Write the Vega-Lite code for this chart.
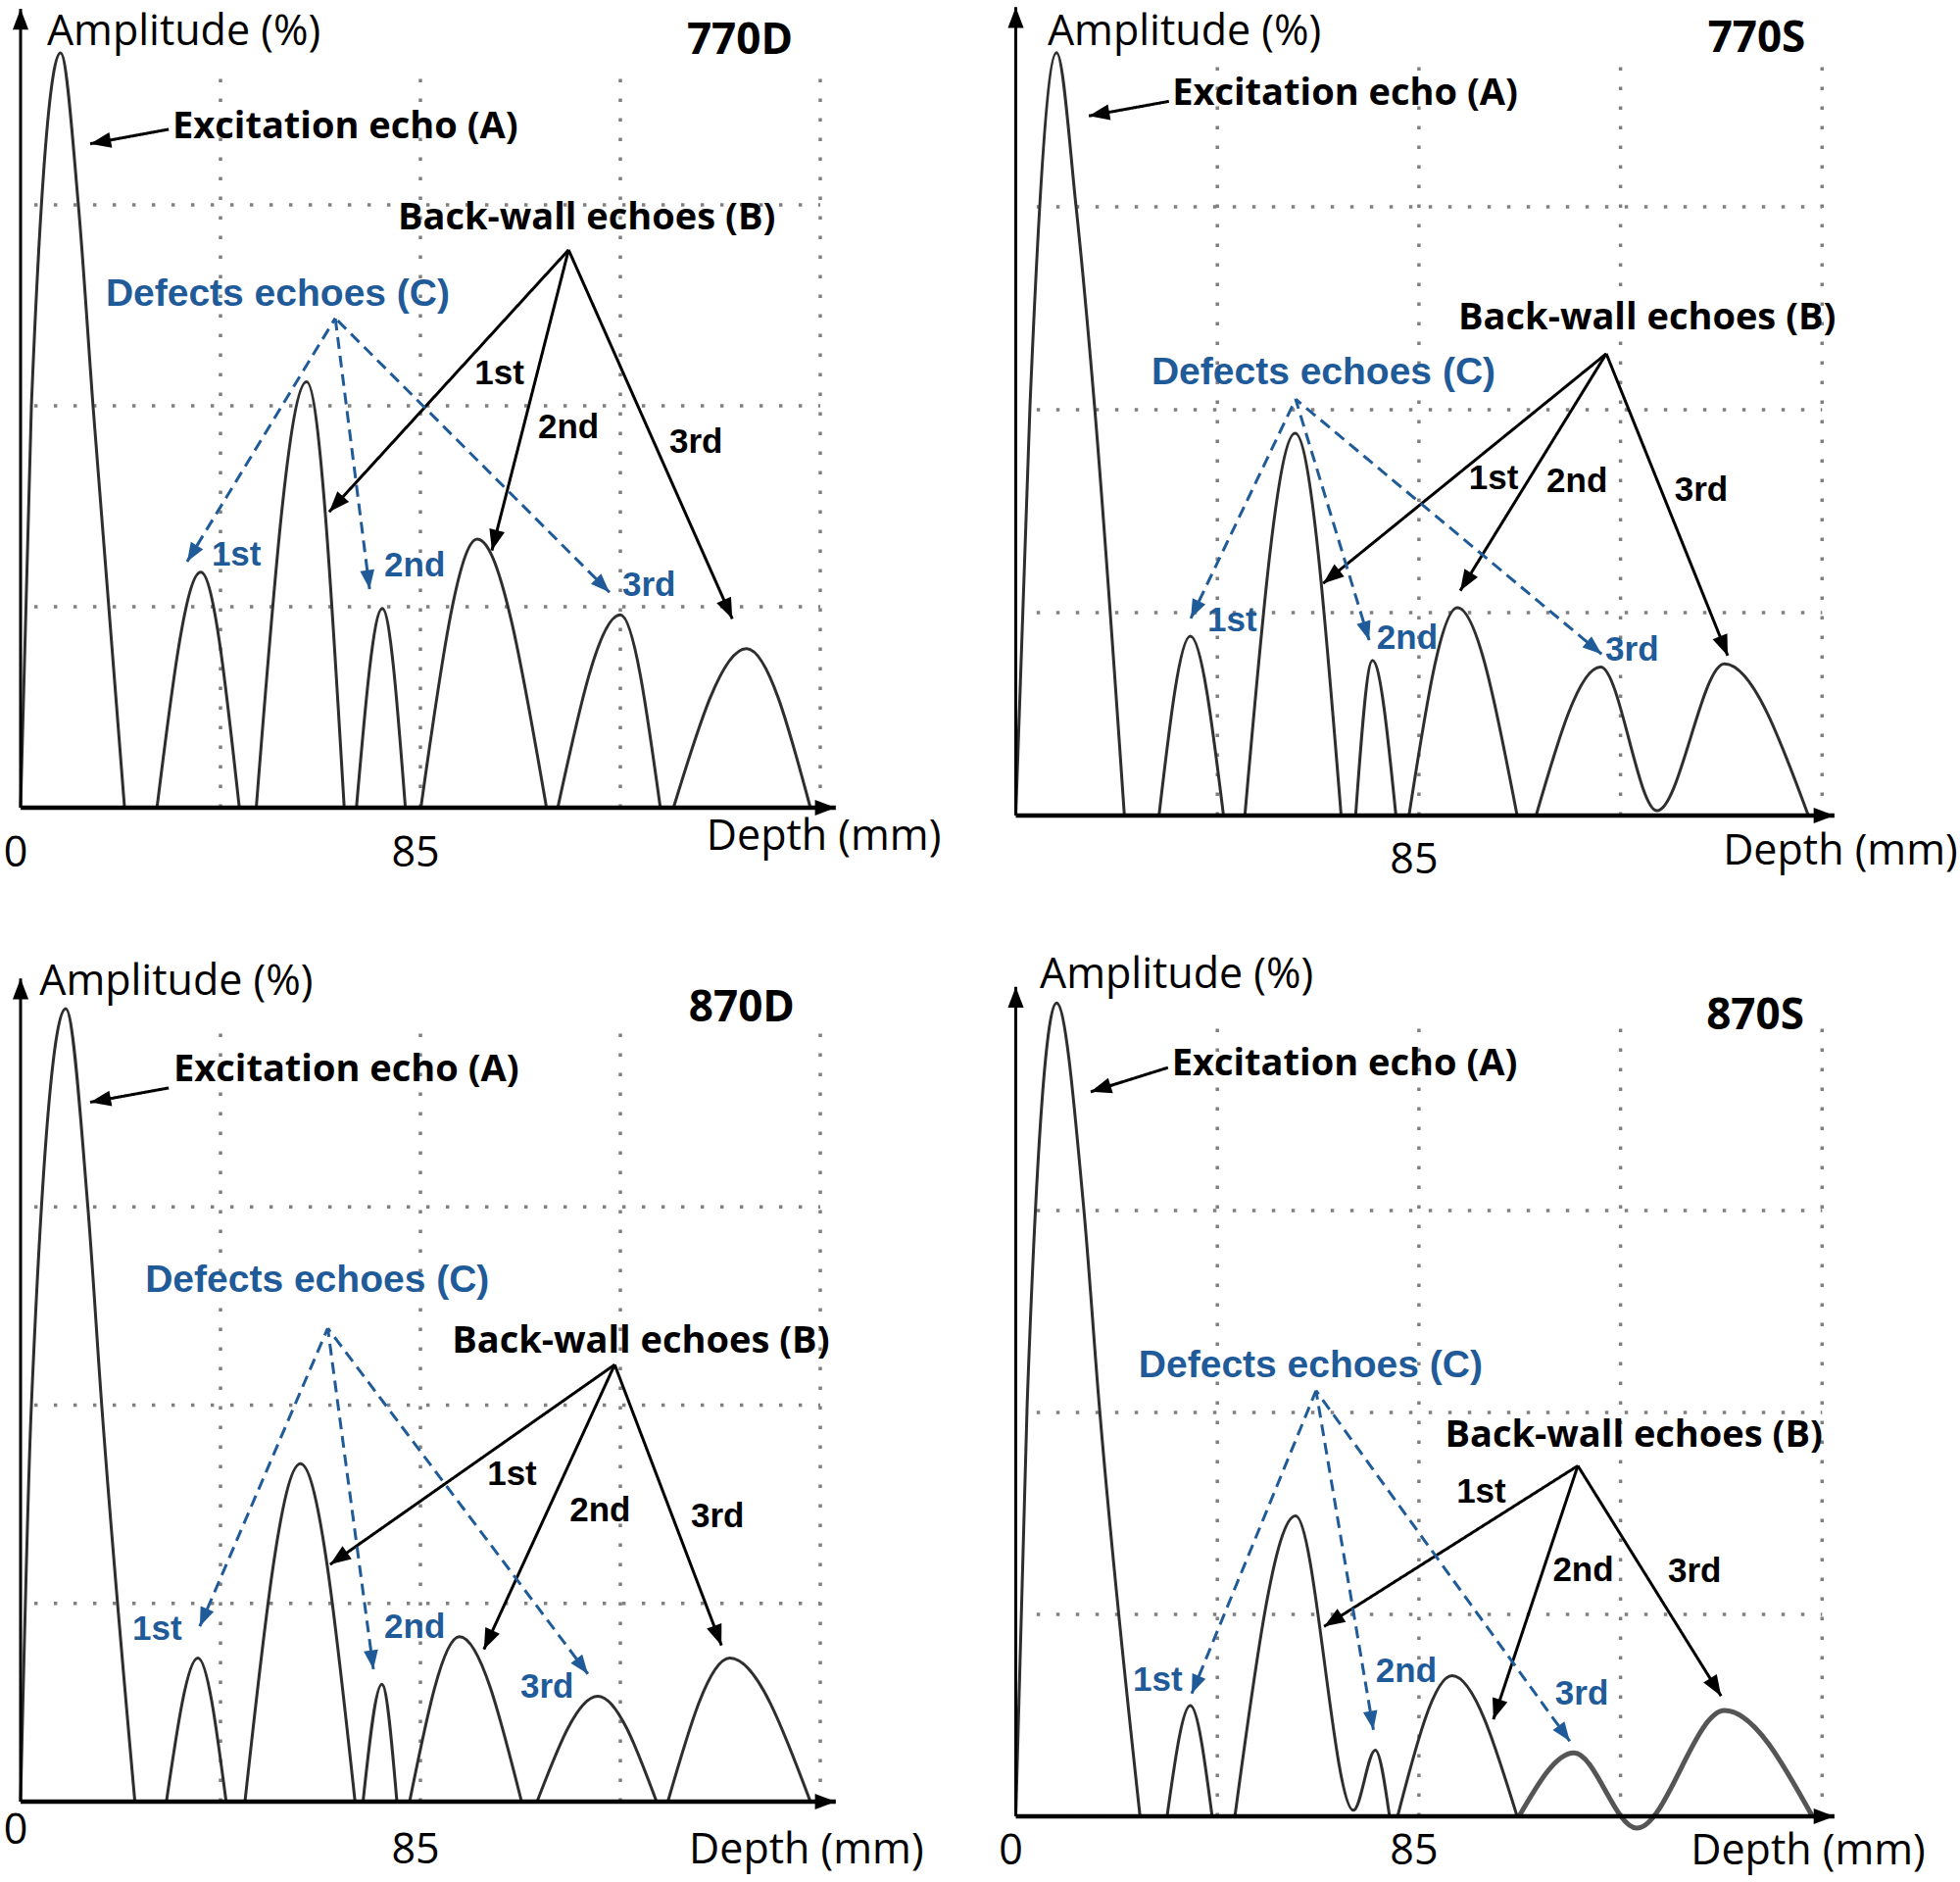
{
  "$schema": "https://vega.github.io/schema/vega-lite/v6.json",
  "background": "white",
  "padding": {"left": 3, "top": 4, "right": 0, "bottom": 10},
  "config": {"view": {"stroke": null}},
  "data": {
    "values": [
      {"panel": "770D", "kind": "wave", "seg": "a1", "x": 0, "y": 0},
      {"panel": "770D", "kind": "wave", "seg": "a1", "x": 2.3, "y": 50},
      {"panel": "770D", "kind": "wave", "seg": "a1", "x": 8.5, "y": 93.9},
      {"panel": "770D", "kind": "wave", "seg": "a1", "x": 12.3, "y": 74.9},
      {"panel": "770D", "kind": "wave", "seg": "a1", "x": 15.4, "y": 50},
      {"panel": "770D", "kind": "wave", "seg": "a1", "x": 22.1, "y": 0},
      {"panel": "770D", "kind": "wave", "seg": "a2", "x": 29, "y": 0},
      {"panel": "770D", "kind": "wave", "seg": "a2", "x": 38.3, "y": 29.3},
      {"panel": "770D", "kind": "wave", "seg": "a2", "x": 46.5, "y": 0},
      {"panel": "770D", "kind": "wave", "seg": "a3", "x": 50.1, "y": 0},
      {"panel": "770D", "kind": "wave", "seg": "a3", "x": 60.8, "y": 53},
      {"panel": "770D", "kind": "wave", "seg": "a3", "x": 68.8, "y": 0},
      {"panel": "770D", "kind": "wave", "seg": "a4", "x": 71.4, "y": 0},
      {"panel": "770D", "kind": "wave", "seg": "a4", "x": 76.9, "y": 24.8},
      {"panel": "770D", "kind": "wave", "seg": "a4", "x": 81.8, "y": 0},
      {"panel": "770D", "kind": "wave", "seg": "a5", "x": 85.1, "y": 0},
      {"panel": "770D", "kind": "wave", "seg": "a5", "x": 97.1, "y": 33.4},
      {"panel": "770D", "kind": "wave", "seg": "a5", "x": 111.8, "y": 0},
      {"panel": "770D", "kind": "wave", "seg": "a6", "x": 114.2, "y": 0},
      {"panel": "770D", "kind": "wave", "seg": "a6", "x": 127.5, "y": 24},
      {"panel": "770D", "kind": "wave", "seg": "a6", "x": 136, "y": 0},
      {"panel": "770D", "kind": "wave", "seg": "a7", "x": 138.8, "y": 0},
      {"panel": "770D", "kind": "wave", "seg": "a7", "x": 154.3, "y": 19.8},
      {"panel": "770D", "kind": "wave", "seg": "a7", "x": 167.9, "y": 0},
      {"panel": "770D", "kind": "hgrid", "x": 2.9, "x2": 170, "y": 25},
      {"panel": "770D", "kind": "hgrid", "x": 2.9, "x2": 170, "y": 50},
      {"panel": "770D", "kind": "hgrid", "x": 2.9, "x2": 170, "y": 75},
      {"panel": "770D", "kind": "vgrid", "x": 42.5, "y": 0, "y2": 92.6},
      {"panel": "770D", "kind": "vgrid", "x": 85, "y": 0, "y2": 92.6},
      {"panel": "770D", "kind": "vgrid", "x": 127.5, "y": 0, "y2": 92.6},
      {"panel": "770D", "kind": "vgrid", "x": 170, "y": 0, "y2": 92.6},
      {"panel": "770D", "kind": "arrow", "role": "yaxis", "x": 0, "y": 99.4, "x0": 0, "y0": 0},
      {"panel": "770D", "kind": "arrow", "role": "xaxis", "x": 173.3, "y": 0, "x0": 0, "y0": 0},
      {"panel": "770D", "kind": "arrow", "role": "echo", "x": 14.8, "y": 82.6, "x0": 31.5, "y0": 84.4},
      {"panel": "770D", "kind": "arrow", "role": "echo", "x": 65.6, "y": 36.8, "x0": 116.5, "y0": 69.4},
      {"panel": "770D", "kind": "arrow", "role": "echo", "x": 100.2, "y": 32, "x0": 116.5, "y0": 69.4},
      {"panel": "770D", "kind": "arrow", "role": "echo", "x": 151.3, "y": 23.5, "x0": 116.5, "y0": 69.4},
      {"panel": "770D", "kind": "arrow", "role": "defect", "x": 35.4, "y": 30.6, "x0": 66.9, "y0": 60.9},
      {"panel": "770D", "kind": "arrow", "role": "defect", "x": 74.2, "y": 27.2, "x0": 66.9, "y0": 60.9},
      {"panel": "770D", "kind": "arrow", "role": "defect", "x": 125.2, "y": 26.8, "x0": 66.9, "y0": 60.9},
      {"panel": "770D", "kind": "label", "role": "title", "x": 5.6, "y": 94.9, "text": "Amplitude (%)"},
      {"panel": "770D", "kind": "label", "role": "title", "x": 145.8, "y": -5.2, "text": "Depth (mm)"},
      {"panel": "770D", "kind": "label", "role": "tick", "x": 0, "y": -7.3, "text": "0"},
      {"panel": "770D", "kind": "label", "role": "tick", "x": 85, "y": -7.3, "text": "85"},
      {"panel": "770D", "kind": "label", "role": "name", "x": 152.9, "y": 93.8, "text": "770D"},
      {"panel": "770D", "kind": "label", "role": "echo", "x": 32.3, "y": 83.3, "text": "Excitation echo (A)"},
      {"panel": "770D", "kind": "label", "role": "echo", "x": 80.2, "y": 72, "text": "Back-wall echoes (B)"},
      {"panel": "770D", "kind": "label", "role": "defect", "x": 18.1, "y": 62.4, "text": "Defects echoes (C)"},
      {"panel": "770D", "kind": "label", "role": "bw_ord", "x": 96.5, "y": 52.7, "text": "1st"},
      {"panel": "770D", "kind": "label", "role": "bw_ord", "x": 110, "y": 46, "text": "2nd"},
      {"panel": "770D", "kind": "label", "role": "bw_ord", "x": 137.9, "y": 44.1, "text": "3rd"},
      {"panel": "770D", "kind": "label", "role": "def_ord", "x": 40.6, "y": 30.1, "text": "1st"},
      {"panel": "770D", "kind": "label", "role": "def_ord", "x": 77.3, "y": 28.8, "text": "2nd"},
      {"panel": "770D", "kind": "label", "role": "def_ord", "x": 127.9, "y": 26.3, "text": "3rd"},

      {"panel": "770S", "kind": "wave", "seg": "b1", "x": 0, "y": 0},
      {"panel": "770S", "kind": "wave", "seg": "b1", "x": 3, "y": 50.5},
      {"panel": "770S", "kind": "wave", "seg": "b1", "x": 8.6, "y": 94},
      {"panel": "770S", "kind": "wave", "seg": "b1", "x": 12.7, "y": 75.1},
      {"panel": "770S", "kind": "wave", "seg": "b1", "x": 16.6, "y": 50.5},
      {"panel": "770S", "kind": "wave", "seg": "b1", "x": 22.9, "y": 0},
      {"panel": "770S", "kind": "wave", "seg": "b2", "x": 30.2, "y": 0},
      {"panel": "770S", "kind": "wave", "seg": "b2", "x": 36.8, "y": 22.1},
      {"panel": "770S", "kind": "wave", "seg": "b2", "x": 43.8, "y": 0},
      {"panel": "770S", "kind": "wave", "seg": "b3", "x": 48.3, "y": 0},
      {"panel": "770S", "kind": "wave", "seg": "b3", "x": 58.9, "y": 47.1},
      {"panel": "770S", "kind": "wave", "seg": "b3", "x": 68.6, "y": 0},
      {"panel": "770S", "kind": "wave", "seg": "b4", "x": 71.65, "y": 0},
      {"panel": "770S", "kind": "wave", "seg": "b4", "x": 75.2, "y": 19.1},
      {"panel": "770S", "kind": "wave", "seg": "b4", "x": 80.15, "y": 0},
      {"panel": "770S", "kind": "wave", "seg": "b5", "x": 82.9, "y": 0},
      {"panel": "770S", "kind": "wave", "seg": "b5", "x": 93.1, "y": 25.6},
      {"panel": "770S", "kind": "wave", "seg": "b5", "x": 105.7, "y": 0},
      {"panel": "770S", "kind": "wave", "seg": "b6", "x": 109.7, "y": 0},
      {"panel": "770S", "kind": "wave", "seg": "b6", "x": 123.3, "y": 18.3},
      {"panel": "770S", "kind": "wave", "seg": "b6", "x": 135.2, "y": 0.6},
      {"panel": "770S", "kind": "wave", "seg": "b6", "x": 149.4, "y": 18.7},
      {"panel": "770S", "kind": "wave", "seg": "b6", "x": 167.1, "y": 0},
      {"panel": "770S", "kind": "hgrid", "x": 4.4, "x2": 170, "y": 25},
      {"panel": "770S", "kind": "hgrid", "x": 4.4, "x2": 170, "y": 50},
      {"panel": "770S", "kind": "hgrid", "x": 4.4, "x2": 170, "y": 75},
      {"panel": "770S", "kind": "vgrid", "x": 42.5, "y": 0, "y2": 92.6},
      {"panel": "770S", "kind": "vgrid", "x": 85, "y": 0, "y2": 92.6},
      {"panel": "770S", "kind": "vgrid", "x": 127.5, "y": 0, "y2": 92.6},
      {"panel": "770S", "kind": "vgrid", "x": 170, "y": 0, "y2": 92.6},
      {"panel": "770S", "kind": "arrow", "role": "yaxis", "x": 0, "y": 99.6, "x0": 0, "y0": 0},
      {"panel": "770S", "kind": "arrow", "role": "xaxis", "x": 172.6, "y": 0, "x0": 0, "y0": 0},
      {"panel": "770S", "kind": "arrow", "role": "echo", "x": 15.4, "y": 86.2, "x0": 32.3, "y0": 88},
      {"panel": "770S", "kind": "arrow", "role": "echo", "x": 64.8, "y": 28.6, "x0": 124.5, "y0": 56.9},
      {"panel": "770S", "kind": "arrow", "role": "echo", "x": 93.7, "y": 27.7, "x0": 124.5, "y0": 56.9},
      {"panel": "770S", "kind": "arrow", "role": "echo", "x": 150.1, "y": 19.7, "x0": 124.5, "y0": 56.9},
      {"panel": "770S", "kind": "arrow", "role": "defect", "x": 36.9, "y": 24.3, "x0": 59, "y0": 51.3},
      {"panel": "770S", "kind": "arrow", "role": "defect", "x": 74.5, "y": 21.6, "x0": 59, "y0": 51.3},
      {"panel": "770S", "kind": "arrow", "role": "defect", "x": 123.5, "y": 19.9, "x0": 59, "y0": 51.3},
      {"panel": "770S", "kind": "label", "role": "title", "x": 6.7, "y": 94.9, "text": "Amplitude (%)"},
      {"panel": "770S", "kind": "label", "role": "title", "x": 149.1, "y": -6, "text": "Depth (mm)"},
      {"panel": "770S", "kind": "label", "role": "tick", "x": 85, "y": -7.1, "text": "85"},
      {"panel": "770S", "kind": "label", "role": "name", "x": 156.2, "y": 94.1, "text": "770S"},
      {"panel": "770S", "kind": "label", "role": "echo", "x": 33, "y": 87.6, "text": "Excitation echo (A)"},
      {"panel": "770S", "kind": "label", "role": "echo", "x": 93.3, "y": 59.9, "text": "Back-wall echoes (B)"},
      {"panel": "770S", "kind": "label", "role": "defect", "x": 28.6, "y": 53.1, "text": "Defects echoes (C)"},
      {"panel": "770S", "kind": "label", "role": "bw_ord", "x": 95.5, "y": 40.2, "text": "1st"},
      {"panel": "770S", "kind": "label", "role": "bw_ord", "x": 111.9, "y": 39.9, "text": "2nd"},
      {"panel": "770S", "kind": "label", "role": "bw_ord", "x": 138.9, "y": 38.8, "text": "3rd"},
      {"panel": "770S", "kind": "label", "role": "def_ord", "x": 40.4, "y": 22.7, "text": "1st"},
      {"panel": "770S", "kind": "label", "role": "def_ord", "x": 76.1, "y": 20.5, "text": "2nd"},
      {"panel": "770S", "kind": "label", "role": "def_ord", "x": 124.3, "y": 19.1, "text": "3rd"},

      {"panel": "870D", "kind": "wave", "seg": "c1", "x": 0, "y": 0},
      {"panel": "870D", "kind": "wave", "seg": "c1", "x": 2.3, "y": 50},
      {"panel": "870D", "kind": "wave", "seg": "c1", "x": 9.6, "y": 100},
      {"panel": "870D", "kind": "wave", "seg": "c1", "x": 14.3, "y": 75},
      {"panel": "870D", "kind": "wave", "seg": "c1", "x": 17.25, "y": 50},
      {"panel": "870D", "kind": "wave", "seg": "c1", "x": 24.3, "y": 0},
      {"panel": "870D", "kind": "wave", "seg": "c2", "x": 31, "y": 0},
      {"panel": "870D", "kind": "wave", "seg": "c2", "x": 37.7, "y": 18.1},
      {"panel": "870D", "kind": "wave", "seg": "c2", "x": 43.7, "y": 0},
      {"panel": "870D", "kind": "wave", "seg": "c3", "x": 47.7, "y": 0},
      {"panel": "870D", "kind": "wave", "seg": "c3", "x": 59.5, "y": 42.6},
      {"panel": "870D", "kind": "wave", "seg": "c3", "x": 71.1, "y": 0},
      {"panel": "870D", "kind": "wave", "seg": "c4", "x": 72.8, "y": 0},
      {"panel": "870D", "kind": "wave", "seg": "c4", "x": 76.8, "y": 14.8},
      {"panel": "870D", "kind": "wave", "seg": "c4", "x": 80, "y": 0},
      {"panel": "870D", "kind": "wave", "seg": "c5", "x": 82.7, "y": 0},
      {"panel": "870D", "kind": "wave", "seg": "c5", "x": 93.3, "y": 20.8},
      {"panel": "870D", "kind": "wave", "seg": "c5", "x": 106.5, "y": 0},
      {"panel": "870D", "kind": "wave", "seg": "c6", "x": 109.8, "y": 0},
      {"panel": "870D", "kind": "wave", "seg": "c6", "x": 122.7, "y": 13.3},
      {"panel": "870D", "kind": "wave", "seg": "c6", "x": 135.2, "y": 0},
      {"panel": "870D", "kind": "wave", "seg": "c7", "x": 137.6, "y": 0},
      {"panel": "870D", "kind": "wave", "seg": "c7", "x": 150.8, "y": 18.1},
      {"panel": "870D", "kind": "wave", "seg": "c7", "x": 167.9, "y": 0},
      {"panel": "870D", "kind": "hgrid", "x": 2.9, "x2": 170, "y": 25},
      {"panel": "870D", "kind": "hgrid", "x": 2.9, "x2": 170, "y": 50},
      {"panel": "870D", "kind": "hgrid", "x": 2.9, "x2": 170, "y": 75},
      {"panel": "870D", "kind": "vgrid", "x": 42.5, "y": 0, "y2": 97.8},
      {"panel": "870D", "kind": "vgrid", "x": 85, "y": 0, "y2": 97.8},
      {"panel": "870D", "kind": "vgrid", "x": 127.5, "y": 0, "y2": 97.8},
      {"panel": "870D", "kind": "vgrid", "x": 170, "y": 0, "y2": 97.8},
      {"panel": "870D", "kind": "arrow", "role": "yaxis", "x": 0, "y": 103.8, "x0": 0, "y0": 0},
      {"panel": "870D", "kind": "arrow", "role": "xaxis", "x": 173.3, "y": 0, "x0": 0, "y0": 0},
      {"panel": "870D", "kind": "arrow", "role": "echo", "x": 14.8, "y": 88.2, "x0": 31.5, "y0": 90},
      {"panel": "870D", "kind": "arrow", "role": "echo", "x": 65.8, "y": 29.9, "x0": 126.3, "y0": 55.1},
      {"panel": "870D", "kind": "arrow", "role": "echo", "x": 98.5, "y": 19.2, "x0": 126.3, "y0": 55.1},
      {"panel": "870D", "kind": "arrow", "role": "echo", "x": 149, "y": 19.7, "x0": 126.3, "y0": 55.1},
      {"panel": "870D", "kind": "arrow", "role": "defect", "x": 38.1, "y": 22.1, "x0": 65.3, "y0": 59.7},
      {"panel": "870D", "kind": "arrow", "role": "defect", "x": 75, "y": 16.7, "x0": 65.3, "y0": 59.7},
      {"panel": "870D", "kind": "arrow", "role": "defect", "x": 120.6, "y": 16.1, "x0": 65.3, "y0": 59.7},
      {"panel": "870D", "kind": "label", "role": "title", "x": 4, "y": 101.7, "text": "Amplitude (%)"},
      {"panel": "870D", "kind": "label", "role": "title", "x": 142.1, "y": -7.8, "text": "Depth (mm)"},
      {"panel": "870D", "kind": "label", "role": "tick", "x": 0, "y": -5.3, "text": "0"},
      {"panel": "870D", "kind": "label", "role": "tick", "x": 85, "y": -7.8, "text": "85"},
      {"panel": "870D", "kind": "label", "role": "name", "x": 153.3, "y": 98.4, "text": "870D"},
      {"panel": "870D", "kind": "label", "role": "echo", "x": 32.5, "y": 90.9, "text": "Excitation echo (A)"},
      {"panel": "870D", "kind": "label", "role": "echo", "x": 91.7, "y": 56.6, "text": "Back-wall echoes (B)"},
      {"panel": "870D", "kind": "label", "role": "defect", "x": 26.5, "y": 64.3, "text": "Defects echoes (C)"},
      {"panel": "870D", "kind": "label", "role": "bw_ord", "x": 99.2, "y": 39.9, "text": "1st"},
      {"panel": "870D", "kind": "label", "role": "bw_ord", "x": 116.7, "y": 35.4, "text": "2nd"},
      {"panel": "870D", "kind": "label", "role": "bw_ord", "x": 142.5, "y": 34.6, "text": "3rd"},
      {"panel": "870D", "kind": "label", "role": "def_ord", "x": 23.75, "y": 20.4, "text": "1st"},
      {"panel": "870D", "kind": "label", "role": "def_ord", "x": 77.3, "y": 20.6, "text": "2nd"},
      {"panel": "870D", "kind": "label", "role": "def_ord", "x": 106.25, "y": 13.1, "text": "3rd"},

      {"panel": "870S", "kind": "wave", "seg": "d1", "x": 0, "y": 0},
      {"panel": "870S", "kind": "wave", "seg": "d1", "x": 2.4, "y": 51},
      {"panel": "870S", "kind": "wave", "seg": "d1", "x": 8.6, "y": 100.7},
      {"panel": "870S", "kind": "wave", "seg": "d1", "x": 14.3, "y": 75.5},
      {"panel": "870S", "kind": "wave", "seg": "d1", "x": 17.6, "y": 50.9},
      {"panel": "870S", "kind": "wave", "seg": "d1", "x": 26.2, "y": 0},
      {"panel": "870S", "kind": "wave", "seg": "d2", "x": 31.9, "y": 0},
      {"panel": "870S", "kind": "wave", "seg": "d2", "x": 36.8, "y": 13.7},
      {"panel": "870S", "kind": "wave", "seg": "d2", "x": 41.4, "y": 0},
      {"panel": "870S", "kind": "wave", "seg": "d3", "x": 46.2, "y": 0},
      {"panel": "870S", "kind": "wave", "seg": "d3", "x": 59, "y": 37.2},
      {"panel": "870S", "kind": "wave", "seg": "d3", "x": 71.2, "y": 0.75},
      {"panel": "870S", "kind": "wave", "seg": "d3", "x": 75.8, "y": 8.2},
      {"panel": "870S", "kind": "wave", "seg": "d3", "x": 78.8, "y": 0},
      {"panel": "870S", "kind": "wave", "seg": "d4", "x": 80.5, "y": 0},
      {"panel": "870S", "kind": "wave", "seg": "d4", "x": 92, "y": 17.4},
      {"panel": "870S", "kind": "wave", "seg": "d4", "x": 105.7, "y": 0},
      {"panel": "870S", "kind": "wave", "seg": "d5", "x": 106.1, "y": 0},
      {"panel": "870S", "kind": "wave", "seg": "d5", "x": 117.7, "y": 7.85},
      {"panel": "870S", "kind": "wave", "seg": "d5", "x": 130.9, "y": -1.46},
      {"panel": "870S", "kind": "wave", "seg": "d5", "x": 149.4, "y": 13.1},
      {"panel": "870S", "kind": "wave", "seg": "d5", "x": 167.95, "y": 0},
      {"panel": "870S", "kind": "hgrid", "x": 4.4, "x2": 170, "y": 25},
      {"panel": "870S", "kind": "hgrid", "x": 4.4, "x2": 170, "y": 50},
      {"panel": "870S", "kind": "hgrid", "x": 4.4, "x2": 170, "y": 75},
      {"panel": "870S", "kind": "vgrid", "x": 42.5, "y": 0, "y2": 97.8},
      {"panel": "870S", "kind": "vgrid", "x": 85, "y": 0, "y2": 97.8},
      {"panel": "870S", "kind": "vgrid", "x": 127.5, "y": 0, "y2": 97.8},
      {"panel": "870S", "kind": "vgrid", "x": 170, "y": 0, "y2": 97.8},
      {"panel": "870S", "kind": "arrow", "role": "yaxis", "x": 0, "y": 102.7, "x0": 0, "y0": 0},
      {"panel": "870S", "kind": "arrow", "role": "xaxis", "x": 172.6, "y": 0, "x0": 0, "y0": 0},
      {"panel": "870S", "kind": "arrow", "role": "echo", "x": 15.8, "y": 89.7, "x0": 32.1, "y0": 92.7},
      {"panel": "870S", "kind": "arrow", "role": "echo", "x": 65, "y": 23.5, "x0": 118.5, "y0": 43.4},
      {"panel": "870S", "kind": "arrow", "role": "echo", "x": 100.7, "y": 12, "x0": 118.5, "y0": 43.4},
      {"panel": "870S", "kind": "arrow", "role": "echo", "x": 148.7, "y": 14.9, "x0": 118.5, "y0": 43.4},
      {"panel": "870S", "kind": "arrow", "role": "defect", "x": 37.1, "y": 15.2, "x0": 63.3, "y0": 52.7},
      {"panel": "870S", "kind": "arrow", "role": "defect", "x": 75.4, "y": 10.7, "x0": 63.3, "y0": 52.7},
      {"panel": "870S", "kind": "arrow", "role": "defect", "x": 116.8, "y": 9.3, "x0": 63.3, "y0": 52.7},
      {"panel": "870S", "kind": "label", "role": "title", "x": 5.06, "y": 102.5, "text": "Amplitude (%)"},
      {"panel": "870S", "kind": "label", "role": "title", "x": 142.3, "y": -5.9, "text": "Depth (mm)"},
      {"panel": "870S", "kind": "label", "role": "tick", "x": 0, "y": -5.9, "text": "0"},
      {"panel": "870S", "kind": "label", "role": "tick", "x": 85, "y": -5.9, "text": "85"},
      {"panel": "870S", "kind": "label", "role": "name", "x": 155.9, "y": 97.5, "text": "870S"},
      {"panel": "870S", "kind": "label", "role": "echo", "x": 32.9, "y": 91.7, "text": "Excitation echo (A)"},
      {"panel": "870S", "kind": "label", "role": "echo", "x": 90.5, "y": 45.8, "text": "Back-wall echoes (B)"},
      {"panel": "870S", "kind": "label", "role": "defect", "x": 25.9, "y": 54.4, "text": "Defects echoes (C)"},
      {"panel": "870S", "kind": "label", "role": "bw_ord", "x": 92.9, "y": 38.8, "text": "1st"},
      {"panel": "870S", "kind": "label", "role": "bw_ord", "x": 113.2, "y": 29.1, "text": "2nd"},
      {"panel": "870S", "kind": "label", "role": "bw_ord", "x": 137.5, "y": 29, "text": "3rd"},
      {"panel": "870S", "kind": "label", "role": "def_ord", "x": 24.7, "y": 15.5, "text": "1st"},
      {"panel": "870S", "kind": "label", "role": "def_ord", "x": 75.9, "y": 16.6, "text": "2nd"},
      {"panel": "870S", "kind": "label", "role": "def_ord", "x": 113.7, "y": 13.8, "text": "3rd"}
    ]
  },
  "columns": 2,
  "align": "all",
  "bounds": "flush",
  "spacing": {"row": 197, "column": 168.5},
  "concat": [
    {
      "width": 840, "height": 820,
      "transform": [{"filter": "datum.panel === '770D'"}],
      "encoding": {
        "x": {"field": "x", "type": "quantitative", "scale": {"domain": [0, 175]}, "axis": null},
        "y": {"field": "y", "type": "quantitative", "scale": {"domain": [0, 100]}, "axis": null}
      },
      "layer": [
        {"transform": [{"filter": "datum.kind === 'hgrid'"}], "mark": {"type": "rule", "color": "#808080", "strokeWidth": 3.5, "strokeDash": [3.5, 16.5]}, "encoding": {"x2": {"field": "x2"}}},
        {"transform": [{"filter": "datum.kind === 'vgrid'"}], "mark": {"type": "rule", "color": "#808080", "strokeWidth": 3.5, "strokeDash": [3.5, 16.5]}, "encoding": {"y2": {"field": "y2"}}},
        {"transform": [{"filter": "datum.kind === 'wave'"}], "mark": {"type": "line", "interpolate": "monotone", "strokeJoin": "round"}, "encoding": {"detail": {"field": "seg"}, "color": {"condition": {"test": "datum.seg === 'd5'", "value": "#555555"}, "value": "#2e2e2e"}, "strokeWidth": {"condition": {"test": "datum.seg === 'd5'", "value": 5}, "value": 3}}},
        {"transform": [{"filter": "datum.kind === 'arrow'"}], "mark": {"type": "rule"}, "encoding": {"x2": {"field": "x0"}, "y2": {"field": "y0"}, "color": {"condition": {"test": "datum.role === 'defect'", "value": "#1f5a99"}, "value": "#000000"}, "strokeDash": {"condition": {"test": "datum.role === 'defect'", "value": [12, 7]}, "value": [1, 0]}, "strokeWidth": {"condition": {"test": "datum.role === 'xaxis'", "value": 4.5}, "value": 3}}},
        {"transform": [{"filter": "datum.kind === 'arrow'"}, {"calculate": "atan2(datum.x - datum.x0, (datum.y - datum.y0) * 1.7) * 180 / PI", "as": "heading"}], "mark": {"type": "point", "shape": "M0,0L-0.38,1L0.38,1Z", "filled": true, "opacity": 1, "strokeWidth": 0}, "encoding": {"angle": {"field": "heading", "type": "quantitative", "scale": null}, "color": {"condition": {"test": "datum.role === 'defect'", "value": "#1f5a99"}, "value": "#000000"}, "size": {"condition": {"test": "datum.role === 'defect'", "value": 1500}, "value": 1800}}},
        {"transform": [{"filter": "datum.kind === 'label' && datum.role === 'title'"}], "mark": {"type": "text", "font": "Open Sans", "fontSize": 43, "align": "left", "baseline": "alphabetic", "color": "#000000"}, "encoding": {"text": {"field": "text"}}},
        {"transform": [{"filter": "datum.kind === 'label' && datum.role === 'tick'"}], "mark": {"type": "text", "font": "Open Sans", "fontSize": 43, "align": "center", "baseline": "alphabetic", "dx": -5, "color": "#000000"}, "encoding": {"text": {"field": "text"}}},
        {"transform": [{"filter": "datum.kind === 'label' && datum.role === 'name'"}], "mark": {"type": "text", "font": "Open Sans", "fontSize": 44, "fontWeight": "bold", "align": "center", "baseline": "alphabetic", "color": "#000000"}, "encoding": {"text": {"field": "text"}}},
        {"transform": [{"filter": "datum.kind === 'label' && datum.role === 'echo'"}], "mark": {"type": "text", "font": "Open Sans", "fontSize": 38, "fontWeight": "bold", "align": "left", "baseline": "alphabetic", "color": "#000000"}, "encoding": {"text": {"field": "text"}}},
        {"transform": [{"filter": "datum.kind === 'label' && datum.role === 'defect'"}], "mark": {"type": "text", "font": "Liberation Sans", "fontSize": 39, "fontWeight": "bold", "align": "left", "baseline": "alphabetic", "color": "#1f5a99"}, "encoding": {"text": {"field": "text"}}},
        {"transform": [{"filter": "datum.kind === 'label' && (datum.role === 'bw_ord' || datum.role === 'def_ord')"}], "mark": {"type": "text", "font": "Liberation Sans", "fontSize": 35, "fontWeight": "bold", "align": "left", "baseline": "alphabetic"}, "encoding": {"text": {"field": "text"}, "color": {"condition": {"test": "datum.role === 'def_ord'", "value": "#1f5a99"}, "value": "#000000"}}}
      ]
    },
    {
      "width": 847, "height": 828,
      "transform": [{"filter": "datum.panel === '770S'"}],
      "encoding": {
        "x": {"field": "x", "type": "quantitative", "scale": {"domain": [0, 175]}, "axis": null},
        "y": {"field": "y", "type": "quantitative", "scale": {"domain": [0, 100]}, "axis": null}
      },
      "layer": [
        {"transform": [{"filter": "datum.kind === 'hgrid'"}], "mark": {"type": "rule", "color": "#808080", "strokeWidth": 3.5, "strokeDash": [3.5, 16.5]}, "encoding": {"x2": {"field": "x2"}}},
        {"transform": [{"filter": "datum.kind === 'vgrid'"}], "mark": {"type": "rule", "color": "#808080", "strokeWidth": 3.5, "strokeDash": [3.5, 16.5]}, "encoding": {"y2": {"field": "y2"}}},
        {"transform": [{"filter": "datum.kind === 'wave'"}], "mark": {"type": "line", "interpolate": "monotone", "strokeJoin": "round"}, "encoding": {"detail": {"field": "seg"}, "color": {"condition": {"test": "datum.seg === 'd5'", "value": "#555555"}, "value": "#2e2e2e"}, "strokeWidth": {"condition": {"test": "datum.seg === 'd5'", "value": 5}, "value": 3}}},
        {"transform": [{"filter": "datum.kind === 'arrow'"}], "mark": {"type": "rule"}, "encoding": {"x2": {"field": "x0"}, "y2": {"field": "y0"}, "color": {"condition": {"test": "datum.role === 'defect'", "value": "#1f5a99"}, "value": "#000000"}, "strokeDash": {"condition": {"test": "datum.role === 'defect'", "value": [12, 7]}, "value": [1, 0]}, "strokeWidth": {"condition": {"test": "datum.role === 'xaxis'", "value": 4.5}, "value": 3}}},
        {"transform": [{"filter": "datum.kind === 'arrow'"}, {"calculate": "atan2(datum.x - datum.x0, (datum.y - datum.y0) * 1.7) * 180 / PI", "as": "heading"}], "mark": {"type": "point", "shape": "M0,0L-0.38,1L0.38,1Z", "filled": true, "opacity": 1, "strokeWidth": 0}, "encoding": {"angle": {"field": "heading", "type": "quantitative", "scale": null}, "color": {"condition": {"test": "datum.role === 'defect'", "value": "#1f5a99"}, "value": "#000000"}, "size": {"condition": {"test": "datum.role === 'defect'", "value": 1500}, "value": 1800}}},
        {"transform": [{"filter": "datum.kind === 'label' && datum.role === 'title'"}], "mark": {"type": "text", "font": "Open Sans", "fontSize": 43, "align": "left", "baseline": "alphabetic", "color": "#000000"}, "encoding": {"text": {"field": "text"}}},
        {"transform": [{"filter": "datum.kind === 'label' && datum.role === 'tick'"}], "mark": {"type": "text", "font": "Open Sans", "fontSize": 43, "align": "center", "baseline": "alphabetic", "dx": -5, "color": "#000000"}, "encoding": {"text": {"field": "text"}}},
        {"transform": [{"filter": "datum.kind === 'label' && datum.role === 'name'"}], "mark": {"type": "text", "font": "Open Sans", "fontSize": 44, "fontWeight": "bold", "align": "center", "baseline": "alphabetic", "color": "#000000"}, "encoding": {"text": {"field": "text"}}},
        {"transform": [{"filter": "datum.kind === 'label' && datum.role === 'echo'"}], "mark": {"type": "text", "font": "Open Sans", "fontSize": 38, "fontWeight": "bold", "align": "left", "baseline": "alphabetic", "color": "#000000"}, "encoding": {"text": {"field": "text"}}},
        {"transform": [{"filter": "datum.kind === 'label' && datum.role === 'defect'"}], "mark": {"type": "text", "font": "Liberation Sans", "fontSize": 39, "fontWeight": "bold", "align": "left", "baseline": "alphabetic", "color": "#1f5a99"}, "encoding": {"text": {"field": "text"}}},
        {"transform": [{"filter": "datum.kind === 'label' && (datum.role === 'bw_ord' || datum.role === 'def_ord')"}], "mark": {"type": "text", "font": "Liberation Sans", "fontSize": 35, "fontWeight": "bold", "align": "left", "baseline": "alphabetic"}, "encoding": {"text": {"field": "text"}, "color": {"condition": {"test": "datum.role === 'def_ord'", "value": "#1f5a99"}, "value": "#000000"}}}
      ]
    },
    {
      "width": 840, "height": 809,
      "transform": [{"filter": "datum.panel === '870D'"}],
      "encoding": {
        "x": {"field": "x", "type": "quantitative", "scale": {"domain": [0, 175]}, "axis": null},
        "y": {"field": "y", "type": "quantitative", "scale": {"domain": [0, 100]}, "axis": null}
      },
      "layer": [
        {"transform": [{"filter": "datum.kind === 'hgrid'"}], "mark": {"type": "rule", "color": "#808080", "strokeWidth": 3.5, "strokeDash": [3.5, 16.5]}, "encoding": {"x2": {"field": "x2"}}},
        {"transform": [{"filter": "datum.kind === 'vgrid'"}], "mark": {"type": "rule", "color": "#808080", "strokeWidth": 3.5, "strokeDash": [3.5, 16.5]}, "encoding": {"y2": {"field": "y2"}}},
        {"transform": [{"filter": "datum.kind === 'wave'"}], "mark": {"type": "line", "interpolate": "monotone", "strokeJoin": "round"}, "encoding": {"detail": {"field": "seg"}, "color": {"condition": {"test": "datum.seg === 'd5'", "value": "#555555"}, "value": "#2e2e2e"}, "strokeWidth": {"condition": {"test": "datum.seg === 'd5'", "value": 5}, "value": 3}}},
        {"transform": [{"filter": "datum.kind === 'arrow'"}], "mark": {"type": "rule"}, "encoding": {"x2": {"field": "x0"}, "y2": {"field": "y0"}, "color": {"condition": {"test": "datum.role === 'defect'", "value": "#1f5a99"}, "value": "#000000"}, "strokeDash": {"condition": {"test": "datum.role === 'defect'", "value": [12, 7]}, "value": [1, 0]}, "strokeWidth": {"condition": {"test": "datum.role === 'xaxis'", "value": 4.5}, "value": 3}}},
        {"transform": [{"filter": "datum.kind === 'arrow'"}, {"calculate": "atan2(datum.x - datum.x0, (datum.y - datum.y0) * 1.7) * 180 / PI", "as": "heading"}], "mark": {"type": "point", "shape": "M0,0L-0.38,1L0.38,1Z", "filled": true, "opacity": 1, "strokeWidth": 0}, "encoding": {"angle": {"field": "heading", "type": "quantitative", "scale": null}, "color": {"condition": {"test": "datum.role === 'defect'", "value": "#1f5a99"}, "value": "#000000"}, "size": {"condition": {"test": "datum.role === 'defect'", "value": 1500}, "value": 1800}}},
        {"transform": [{"filter": "datum.kind === 'label' && datum.role === 'title'"}], "mark": {"type": "text", "font": "Open Sans", "fontSize": 43, "align": "left", "baseline": "alphabetic", "color": "#000000"}, "encoding": {"text": {"field": "text"}}},
        {"transform": [{"filter": "datum.kind === 'label' && datum.role === 'tick'"}], "mark": {"type": "text", "font": "Open Sans", "fontSize": 43, "align": "center", "baseline": "alphabetic", "dx": -5, "color": "#000000"}, "encoding": {"text": {"field": "text"}}},
        {"transform": [{"filter": "datum.kind === 'label' && datum.role === 'name'"}], "mark": {"type": "text", "font": "Open Sans", "fontSize": 44, "fontWeight": "bold", "align": "center", "baseline": "alphabetic", "color": "#000000"}, "encoding": {"text": {"field": "text"}}},
        {"transform": [{"filter": "datum.kind === 'label' && datum.role === 'echo'"}], "mark": {"type": "text", "font": "Open Sans", "fontSize": 38, "fontWeight": "bold", "align": "left", "baseline": "alphabetic", "color": "#000000"}, "encoding": {"text": {"field": "text"}}},
        {"transform": [{"filter": "datum.kind === 'label' && datum.role === 'defect'"}], "mark": {"type": "text", "font": "Liberation Sans", "fontSize": 39, "fontWeight": "bold", "align": "left", "baseline": "alphabetic", "color": "#1f5a99"}, "encoding": {"text": {"field": "text"}}},
        {"transform": [{"filter": "datum.kind === 'label' && (datum.role === 'bw_ord' || datum.role === 'def_ord')"}], "mark": {"type": "text", "font": "Liberation Sans", "fontSize": 35, "fontWeight": "bold", "align": "left", "baseline": "alphabetic"}, "encoding": {"text": {"field": "text"}, "color": {"condition": {"test": "datum.role === 'def_ord'", "value": "#1f5a99"}, "value": "#000000"}}}
      ]
    },
    {
      "width": 847, "height": 824,
      "transform": [{"filter": "datum.panel === '870S'"}],
      "encoding": {
        "x": {"field": "x", "type": "quantitative", "scale": {"domain": [0, 175]}, "axis": null},
        "y": {"field": "y", "type": "quantitative", "scale": {"domain": [0, 100]}, "axis": null}
      },
      "layer": [
        {"transform": [{"filter": "datum.kind === 'hgrid'"}], "mark": {"type": "rule", "color": "#808080", "strokeWidth": 3.5, "strokeDash": [3.5, 16.5]}, "encoding": {"x2": {"field": "x2"}}},
        {"transform": [{"filter": "datum.kind === 'vgrid'"}], "mark": {"type": "rule", "color": "#808080", "strokeWidth": 3.5, "strokeDash": [3.5, 16.5]}, "encoding": {"y2": {"field": "y2"}}},
        {"transform": [{"filter": "datum.kind === 'wave'"}], "mark": {"type": "line", "interpolate": "monotone", "strokeJoin": "round"}, "encoding": {"detail": {"field": "seg"}, "color": {"condition": {"test": "datum.seg === 'd5'", "value": "#555555"}, "value": "#2e2e2e"}, "strokeWidth": {"condition": {"test": "datum.seg === 'd5'", "value": 5}, "value": 3}}},
        {"transform": [{"filter": "datum.kind === 'arrow'"}], "mark": {"type": "rule"}, "encoding": {"x2": {"field": "x0"}, "y2": {"field": "y0"}, "color": {"condition": {"test": "datum.role === 'defect'", "value": "#1f5a99"}, "value": "#000000"}, "strokeDash": {"condition": {"test": "datum.role === 'defect'", "value": [12, 7]}, "value": [1, 0]}, "strokeWidth": {"condition": {"test": "datum.role === 'xaxis'", "value": 4.5}, "value": 3}}},
        {"transform": [{"filter": "datum.kind === 'arrow'"}, {"calculate": "atan2(datum.x - datum.x0, (datum.y - datum.y0) * 1.7) * 180 / PI", "as": "heading"}], "mark": {"type": "point", "shape": "M0,0L-0.38,1L0.38,1Z", "filled": true, "opacity": 1, "strokeWidth": 0}, "encoding": {"angle": {"field": "heading", "type": "quantitative", "scale": null}, "color": {"condition": {"test": "datum.role === 'defect'", "value": "#1f5a99"}, "value": "#000000"}, "size": {"condition": {"test": "datum.role === 'defect'", "value": 1500}, "value": 1800}}},
        {"transform": [{"filter": "datum.kind === 'label' && datum.role === 'title'"}], "mark": {"type": "text", "font": "Open Sans", "fontSize": 43, "align": "left", "baseline": "alphabetic", "color": "#000000"}, "encoding": {"text": {"field": "text"}}},
        {"transform": [{"filter": "datum.kind === 'label' && datum.role === 'tick'"}], "mark": {"type": "text", "font": "Open Sans", "fontSize": 43, "align": "center", "baseline": "alphabetic", "dx": -5, "color": "#000000"}, "encoding": {"text": {"field": "text"}}},
        {"transform": [{"filter": "datum.kind === 'label' && datum.role === 'name'"}], "mark": {"type": "text", "font": "Open Sans", "fontSize": 44, "fontWeight": "bold", "align": "center", "baseline": "alphabetic", "color": "#000000"}, "encoding": {"text": {"field": "text"}}},
        {"transform": [{"filter": "datum.kind === 'label' && datum.role === 'echo'"}], "mark": {"type": "text", "font": "Open Sans", "fontSize": 38, "fontWeight": "bold", "align": "left", "baseline": "alphabetic", "color": "#000000"}, "encoding": {"text": {"field": "text"}}},
        {"transform": [{"filter": "datum.kind === 'label' && datum.role === 'defect'"}], "mark": {"type": "text", "font": "Liberation Sans", "fontSize": 39, "fontWeight": "bold", "align": "left", "baseline": "alphabetic", "color": "#1f5a99"}, "encoding": {"text": {"field": "text"}}},
        {"transform": [{"filter": "datum.kind === 'label' && (datum.role === 'bw_ord' || datum.role === 'def_ord')"}], "mark": {"type": "text", "font": "Liberation Sans", "fontSize": 35, "fontWeight": "bold", "align": "left", "baseline": "alphabetic"}, "encoding": {"text": {"field": "text"}, "color": {"condition": {"test": "datum.role === 'def_ord'", "value": "#1f5a99"}, "value": "#000000"}}}
      ]
    }
  ]
}
